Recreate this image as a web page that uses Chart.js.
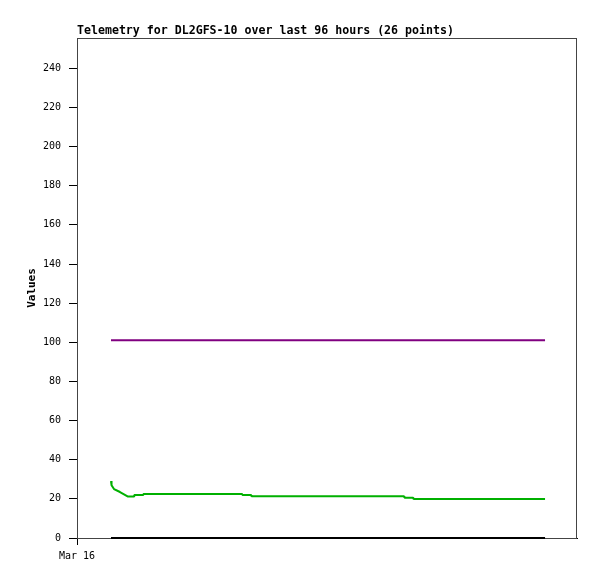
<!DOCTYPE html>
<html>
<head>
<meta charset="utf-8">
<title>Telemetry</title>
<script src="https://cdn.jsdelivr.net/npm/chart.js@4.4.1/dist/chart.umd.min.js"></script>
<style>
  html, body { margin: 0; padding: 0; background: #fff; }
  canvas { display: block; }
</style>
</head>
<body>
<canvas id="telemetryChart" width="597" height="579"></canvas>
<script>
// Hours since Mar 16 00:00
const hours = [7.48, 7.6, 8.14, 9.46, 11.22, 12.54, 12.6, 14.52, 14.6, 22, 29, 36.3, 36.4,
  38.28, 38.4, 46, 54, 62, 71.95, 72.05, 73.93, 74.05, 82, 90, 97, 102.97];

const purpleValues = [101, 101, 101, 101, 101, 101, 101, 101, 101, 101, 101, 101, 101,
  101, 101, 101, 101, 101, 101, 101, 101, 101, 101, 101, 101, 101];
const greenValues = [29.1, 27.0, 25.0, 23.5, 21.2, 21.2, 22.0, 22.0, 22.5, 22.5, 22.5, 22.5, 22.0,
  22.0, 21.3, 21.3, 21.3, 21.3, 21.3, 20.6, 20.6, 19.9, 19.9, 19.9, 19.9, 19.9];
const blackValues = [0, 0, 0, 0, 0, 0, 0, 0, 0, 0, 0, 0, 0,
  0, 0, 0, 0, 0, 0, 0, 0, 0, 0, 0, 0, 0];

const yTicks = [0, 20, 40, 60, 80, 100, 120, 140, 160, 180, 200, 220, 240];
const xTicks = [0];
const xTickLabels = ["Mar 16"];

const chartTitle = "Telemetry for DL2GFS-10 over last 96 hours (26 points)";
const yTitle = "Values";

const mono = "'DejaVu Sans Mono', 'Liberation Mono', monospace";

function toPoints(values) {
  return values.map((v, i) => ({ x: hours[i], y: v }));
}

// Frame, title and y axis caption
const decorations = {
  id: "decorations",
  beforeDatasetsDraw(chart) {
    const { ctx, chartArea } = chart;
    ctx.save();
    ctx.strokeStyle = "#444";
    ctx.lineWidth = 1;
    ctx.strokeRect(chartArea.left + 0.5, chartArea.top + 0.5,
      chartArea.right - chartArea.left - 1, chartArea.bottom - chartArea.top);
    ctx.restore();
  },
  afterDraw(chart) {
    const { ctx, chartArea } = chart;
    ctx.save();
    ctx.fillStyle = "#000";
    ctx.font = "bold 11.6px " + mono;
    ctx.textAlign = "left";
    ctx.textBaseline = "middle";
    ctx.fillText(chartTitle, chartArea.left, 31);

    ctx.translate(32, (chartArea.top + chartArea.bottom) / 2);
    ctx.rotate(-Math.PI / 2);
    ctx.font = "bold 11px " + mono;
    ctx.textAlign = "center";
    ctx.fillText(yTitle, 0, 0);
    ctx.restore();
  },
};

const ctx = document.getElementById("telemetryChart").getContext("2d");
const telemetryChart = new Chart(ctx, {
  type: "line",
  data: {
    datasets: [
      { data: toPoints(purpleValues), borderColor: "#800080" },
      { data: toPoints(greenValues), borderColor: "#00b000" },
      { data: toPoints(blackValues), borderColor: "#000000" },
    ].map((d) => ({
      ...d,
      borderWidth: 2,
      borderJoinStyle: "bevel",
      pointRadius: 0,
      tension: 0,
      fill: false,
      clip: false,
    })),
  },
  options: {
    responsive: false,
    animation: false,
    layout: { padding: { left: 0, right: 20, top: 38, bottom: 0 } },
    plugins: {
      legend: { display: false },
      tooltip: { enabled: false },
    },
    scales: {
      x: {
        type: "linear",
        min: 0,
        max: 110,
        afterBuildTicks: (scale) => {
          scale.ticks = xTicks.map((v) => ({ value: v }));
        },
        afterFit: (scale) => {
          scale.height = 41;
        },
        ticks: {
          color: "#000",
          font: { family: mono, size: 10 },
          padding: 5,
          maxRotation: 0,
          callback: (value) => xTickLabels[xTicks.indexOf(value)] || "",
        },
        grid: { drawOnChartArea: false, color: "#000", tickLength: 7 },
        border: { color: "#000", width: 1 },
      },
      y: {
        type: "linear",
        min: 0,
        max: 255.5,
        afterBuildTicks: (scale) => {
          scale.ticks = yTicks.map((v) => ({ value: v }));
        },
        afterFit: (scale) => {
          scale.width = 77;
        },
        ticks: {
          color: "#000",
          font: { family: mono, size: 10 },
          padding: 8,
        },
        grid: { drawOnChartArea: false, color: "#000", tickLength: 8 },
        border: { color: "#000", width: 1 },
      },
    },
  },
  plugins: [decorations],
});
</script>
</body>
</html>
